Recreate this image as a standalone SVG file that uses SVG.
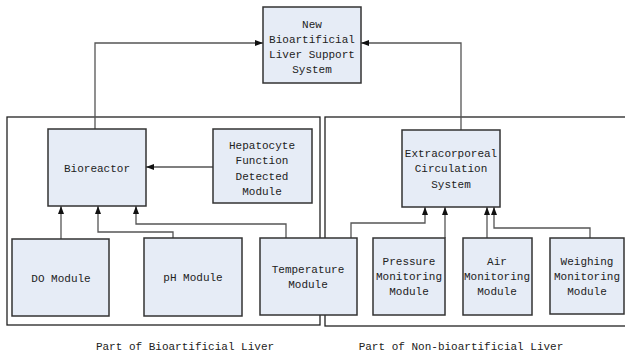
<svg xmlns="http://www.w3.org/2000/svg" width="625" height="355" viewBox="0 0 625 355">
<style>
.box{fill:#E6ECF6;stroke:#333;stroke-width:1.5}
.region{fill:none;stroke:#222;stroke-width:1.3}
.conn{fill:none;stroke:#555;stroke-width:1.3}
text{font-family:"Liberation Mono","DejaVu Sans Mono",monospace;font-size:11px;fill:#222;text-anchor:middle}
</style>
<defs>
<marker id="arr" viewBox="0 0 8 6" refX="8" refY="3" markerWidth="8" markerHeight="6" markerUnits="userSpaceOnUse" orient="auto">
<path d="M0,0 L8,3 L0,6 Z" fill="#111"/>
</marker>
</defs>
<rect fill="#fff" x="0" y="0" width="625" height="355"/>
<g id="regions">
<rect class="region" x="7" y="117" width="313" height="208"/>
<rect class="region" x="325" y="117" width="310" height="209"/>
</g>
<g id="connectors">
<path class="conn" marker-end="url(#arr)" d="M95,129 V43 H263"/>
<path class="conn" marker-end="url(#arr)" d="M461,130 V43 H361"/>
<path class="conn" marker-end="url(#arr)" d="M213,167 H146"/>
<path class="conn" marker-end="url(#arr)" d="M61,239 V206"/>
<path class="conn" marker-end="url(#arr)" d="M173,238 V232 H98 V206"/>
<path class="conn" marker-end="url(#arr)" d="M286,238 V224 H136 V206"/>
<path class="conn" marker-end="url(#arr)" d="M351,238 V223 H425 V207"/>
<path class="conn" marker-end="url(#arr)" d="M445,238 V207"/>
<path class="conn" marker-end="url(#arr)" d="M487,238 V207"/>
<path class="conn" marker-end="url(#arr)" d="M590,238 V228 H494 V207"/>
</g>
<g id="system">
<rect class="box" x="263" y="7" width="98" height="76"/>
<text x="312" y="28">New</text>
<text x="312" y="43">Bioartificial</text>
<text x="312" y="58">Liver Support</text>
<text x="312" y="73">System</text>
</g>
<g id="bioreactor">
<rect class="box" x="48" y="129" width="98" height="77"/>
<text x="97" y="172">Bioreactor</text>
</g>
<g id="hepatocyte">
<rect class="box" x="213" y="129" width="99" height="74"/>
<text x="262" y="149">Hepatocyte</text>
<text x="262" y="164">Function</text>
<text x="262" y="180">Detected</text>
<text x="262" y="195">Module</text>
</g>
<g id="extracorporeal">
<rect class="box" x="402" y="130" width="98" height="77"/>
<text x="451" y="157">Extracorporeal</text>
<text x="451" y="172">Circulation</text>
<text x="451" y="188">System</text>
</g>
<g id="do">
<rect class="box" x="12" y="239" width="97" height="77"/>
<text x="61" y="282">DO Module</text>
</g>
<g id="ph">
<rect class="box" x="144" y="238" width="98" height="78"/>
<text x="193" y="281">pH Module</text>
</g>
<g id="temperature">
<rect class="box" x="260" y="238" width="97" height="77"/>
<text x="308" y="273">Temperature</text>
<text x="308" y="288">Module</text>
</g>
<g id="pressure">
<rect class="box" x="373" y="238" width="72" height="77"/>
<text x="409" y="265">Pressure</text>
<text x="409" y="280">Monitoring</text>
<text x="409" y="295">Module</text>
</g>
<g id="air">
<rect class="box" x="463" y="238" width="69" height="77"/>
<text x="497" y="265">Air</text>
<text x="497" y="280">Monitoring</text>
<text x="497" y="295">Module</text>
</g>
<g id="weighing">
<rect class="box" x="550" y="238" width="74" height="76"/>
<text x="587" y="265">Weighing</text>
<text x="587" y="280">Monitoring</text>
<text x="587" y="295">Module</text>
</g>
<g id="labels">
<text x="185" y="350">Part of Bioartificial Liver</text>
<text x="461" y="350">Part of Non-bioartificial Liver</text>
</g>
</svg>
